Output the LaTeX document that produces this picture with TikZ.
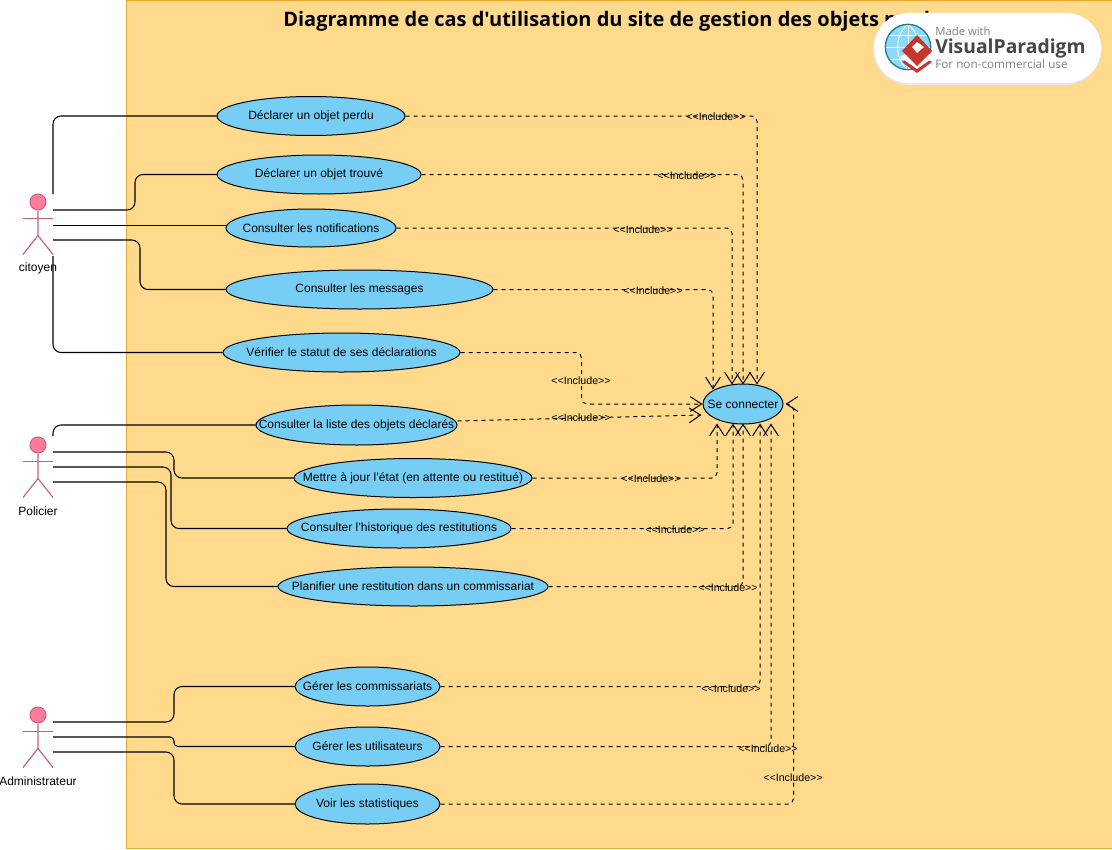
\documentclass[tikz,border=0pt]{standalone}
\usepackage{fontspec}
\setmainfont{Liberation Sans}
\newfontfamily\titlefont{Open Sans}
\usetikzlibrary{arrows.meta,calc,shapes.geometric}
\definecolor{sysfill}{HTML}{FFD98C}
\definecolor{sysline}{HTML}{E8A92E}
\definecolor{ucfill}{HTML}{76CEF5}
\definecolor{actfill}{HTML}{FF7B9C}
\definecolor{actline}{HTML}{C8607E}
\definecolor{logored}{HTML}{C8352E}
\def\px{0.75pt}
\newcommand{\uct}[1]{\makebox[0pt][c]{\raisebox{-0.9pt}{#1}}}
\newcommand{\inc}{<{}<Include>{}>}
\tikzset{
  uc/.style={ellipse,draw=black,line width=0.75pt,fill=ucfill,inner sep=0pt,font=\fontsize{9}{11}\selectfont},
  assoc/.style={draw=black,line width=0.8pt,rounded corners=6pt},
  incl/.style={draw=black,line width=0.75pt,dash pattern=on 3pt off 3pt,rounded corners=4pt,-{Straight Barb[length=8.5pt,width=11pt]}},
  incllabel/.style={inner sep=0pt,yshift=-0.5pt,font=\fontsize{8}{9}\selectfont},
  actorname/.style={inner sep=0pt,font=\fontsize{9}{11}\selectfont},
  actorline/.style={draw=actline,line width=0.9pt},
  actorhead/.style={circle,draw=actline,fill=actfill,line width=0.75pt,minimum size=12pt,inner sep=0pt},
}
\newcommand{\actor}[3]{%
  \node[actorhead] (#1) at (38,#2) {};
  \draw[actorline] (#1.south) -- +(0,25) coordinate (#1hip) -- +(-15,44);
  \draw[actorline] (#1hip) -- +(15,19);
  \draw[actorline] ($(#1.south)+(-15,8)$) -- +(30,0);
  \node[actorname] (#1name) at (38,#2+66) {#3};
}
\begin{document}
\begin{tikzpicture}[x=0.75pt,y=-0.75pt]
\useasboundingbox (0,0) rectangle (1112,849);
\fill[sysfill] (126,0) rectangle (1112,849);
\draw[sysline,line width=0.75pt] (1113,0.5) -- (126.5,0.5) -- (126.5,849);
\draw[sysline,line width=0.75pt] (126.5,848.5) -- (1113,848.5);
\node[anchor=base west,inner sep=0pt,font=\titlefont\bfseries\fontsize{15}{18}\selectfont] (title) at (283,27) {Diagramme de cas d'utilisation du site de gestion des objets perdus};

% use cases
\node[uc,minimum width={188*\px},minimum height={39*\px}] (e1) at (311,116) {\uct{Déclarer un objet perdu}};
\node[uc,minimum width={204*\px},minimum height={39*\px}] (e2) at (319,174.5) {\uct{Déclarer un objet trouvé}};
\node[uc,minimum width={170*\px},minimum height={38*\px}] (e3) at (311,228) {\uct{Consulter les notifications}};
\node[uc,minimum width={267*\px},minimum height={39*\px}] (e4) at (359.5,289.5) {\uct{Consulter les messages}};
\node[uc,minimum width={237*\px},minimum height={39*\px}] (e5) at (341.5,352.5) {\uct{Vérifier le statut de ses déclarations}};
\node[uc,minimum width={201*\px},minimum height={40*\px}] (e6) at (356.5,425) {\uct{Consulter la liste des objets déclarés}};
\node[uc,minimum width={238*\px},minimum height={39*\px}] (e7) at (413,478) {\uct{Mettre à jour l'état (en attente ou restitué)}};
\node[uc,minimum width={224*\px},minimum height={39*\px}] (e8) at (399,528.5) {\uct{Consulter l'historique des restitutions}};
\node[uc,minimum width={270*\px},minimum height={39*\px}] (e9) at (413,586.5) {\uct{Planifier une restitution dans un commissariat}};
\node[uc,minimum width={145*\px},minimum height={39*\px}] (e10) at (367.5,686.5) {\uct{Gérer les commissariats}};
\node[uc,minimum width={145*\px},minimum height={39*\px}] (e11) at (367.5,746.5) {\uct{Gérer les utilisateurs}};
\node[uc,minimum width={145*\px},minimum height={40*\px}] (e12) at (367.5,804) {\uct{Voir les statistiques}};
\node[uc,minimum width={80*\px},minimum height={40*\px}] (se) at (743,404) {\uct{Se connecter}};

% actors
\actor{citoyen}{202}{citoyen}
\actor{policier}{445}{Policier}
\actor{admin}{715}{Administrateur}

\coordinate (a1) at (53,194);
\coordinate (a2) at (53,210);
\coordinate (a3) at (53,225.5);
\coordinate (a4) at (53,240);
\coordinate (a5) at (53,256);
\coordinate (p1) at (53,436);
\coordinate (p2) at (53,452);
\coordinate (p3) at (53,467);
\coordinate (p4) at (53,482);
\coordinate (d1) at (53,722);
\coordinate (d2) at (53,737);
\coordinate (d3) at (53,752);

% associations
\draw[assoc] (a1) |- (e1.west);
\draw[assoc] (a2) -- ++(82,0) |- (e2.west);
\draw[assoc] (a3) -- (a3 -| e3.west);
\draw[assoc] (a4) -- ++(87,0) |- (e4.west);
\draw[assoc] (a5) |- (e5.west);
\draw[assoc] (p1) |- (e6.west);
\draw[assoc] (p2) -- ++(121,0) |- (e7.west);
\draw[assoc] (p3) -- ++(118,0) |- (e8.west);
\draw[assoc] (p4) -- ++(113,0) |- (e9.west);
\draw[assoc] (d1) -- ++(121,0) |- (e10.west);
\draw[assoc,rounded corners=3pt] (d2) -- ++(121,0) |- (e11.west);
\draw[assoc] (d3) -- ++(121,0) |- (e12.west);

% includes
\draw[incl] (e1.east) -| ($(se.north)+(14,1)$);
\draw[incl] (e2.east) -| ($(se.north)+(0,1)$);
\draw[incl] (e3.east) -| ($(se.north)+(-11,1)$);
\draw[incl] (e4.east) -| ($(se.north)+(-30,6)$);
\draw[incl] (e5.east) -- ++(121,0) |- (se.west);
\draw[incl] ($(e6.east)+(0,-4)$) -- ($(se.west)+(-1,11)$);
\draw[incl] (e7.east) -| ($(se.south)+(-26,-1)$);
\draw[incl] (e8.east) -| ($(se.south)+(-10,-1)$);
\draw[incl] (e9.east) -| ($(se.south)+(0,-1)$);
\draw[incl] (e10.east) -| ($(se.south)+(17,-1)$);
\draw[incl] (e11.east) -| ($(se.south)+(28,-1)$);
\draw[incl] (e12.east) -- ++(353,0) |- ($(se.east)+(2,0)$);

\node[incllabel] (l1) at (716,116) {\inc};
\node[incllabel] (l2) at (687,175) {\inc};
\node[incllabel] (l3) at (643,229) {\inc};
\node[incllabel] (l4) at (653,290) {\inc};
\node[incllabel] (l5) at (581,380) {\inc};
\node[incllabel] (l6) at (581,417) {\inc};
\node[incllabel] (l7) at (651,478) {\inc};
\node[incllabel] (l8) at (675,529) {\inc};
\node[incllabel] (l9) at (728,587) {\inc};
\node[incllabel] (l10) at (731,688) {\inc};
\node[incllabel] (l11) at (768,748) {\inc};
\node[incllabel] (l12) at (793,777) {\inc};

% logo
\fill[black!10] (873,13) [rounded corners=27pt] rectangle (1102,85);
\fill[white,rounded corners=26pt] (874,13) rectangle (1101,83);
\fill[cyan!45!white] (908,47) circle (17pt);
\draw[white,line width=0.7pt] (908,24) -- (908,70) (885,47) -- (931,47) (889,35) -- (927,35) (889,59) -- (927,59);
\draw[white,line width=0.7pt] (908,24) .. controls (894,36) and (894,58) .. (908,70);
\draw[white,line width=0.7pt] (908,24) .. controls (922,36) and (922,58) .. (908,70);
\draw[teal!70!gray,line width=1pt] (908,47) circle (17pt);
\fill[logored] (902,62) -- (917,53) -- (932,62) -- (917,73) -- cycle;
\fill[white] (900,57) -- (917,46) -- (934,57) -- (917,69) -- cycle;
\fill[logored] (902,51) -- (917,35) -- (932,51) -- (917,66) -- cycle;
\fill[white] (912,47) -- (917,42) -- (924,47) -- (917,53) -- cycle;
\node[anchor=base west,inner sep=0pt,text=black!50,font=\titlefont\fontsize{8.5}{9}\selectfont] (lg1) at (935,36) {Made with};
\node[anchor=base west,inner sep=0pt,text=black!72,font=\titlefont\bfseries\fontsize{14.5}{15}\selectfont] (lg2) at (935,54) {VisualParadigm};
\node[anchor=base west,inner sep=0pt,text=black!50,font=\titlefont\fontsize{8.8}{9}\selectfont] (lg3) at (935,69) {For non-commercial use};
\end{tikzpicture}
\end{document}
